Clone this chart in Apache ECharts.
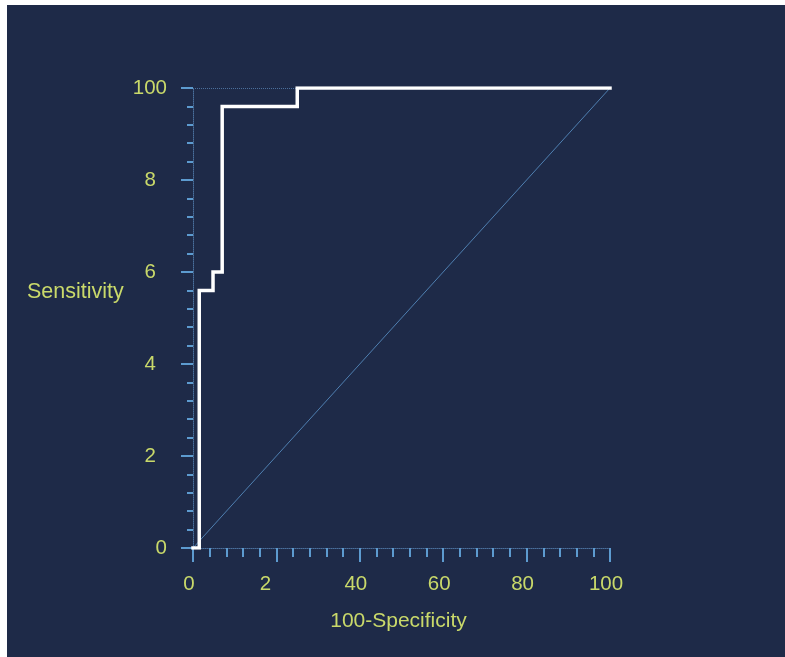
<!DOCTYPE html>
<html>
<head>
<meta charset="utf-8">
<script src="https://cdn.jsdelivr.net/npm/echarts@6/dist/echarts.min.js"></script>
<style>
html,body{margin:0;padding:0;background:#ffffff;}
#chart{width:785px;height:657px;}
</style>
</head>
<body>
<div id="chart"></div>
<script>
// ROC curve points (100-Specificity, Sensitivity), stepped
const rocX = [0, 1.5, 4.8, 7, 25, 100];
const rocY = [0, 56, 60, 96, 100, 100];
// reference diagonal
const diagX = [0, 100];
const diagY = [0, 100];
// tick values and tick labels as printed
const tickValues = [0, 20, 40, 60, 80, 100];
const xTickLabels = ['0', '2', '40', '60', '80', '100'];
const yTickLabels = ['0', '2', '4', '6', '8', '100'];

const labelColor = '#c9d96a';
const tickColor = '#5d9bd0';
const font = '"Liberation Sans", Arial, sans-serif';

function labelFor(list, shortStyle) {
  return function (v) {
    const i = tickValues.indexOf(Math.round(v));
    if (i < 0) return '';
    const s = list[i];
    return (v !== 0 && s.length === 1) ? '{s|' + s + '}' : '{n|' + s + '}';
  };
}

const chart = echarts.init(document.getElementById('chart'));
chart.setOption({
  animation: false,
  backgroundColor: '#ffffff',
  graphic: [{
    type: 'rect', z: -10,
    shape: {x: 7, y: 5, width: 778, height: 652},
    style: {fill: '#1e2a48'}
  }, {
    type: 'text', left: 27, top: 281, z: 10,
    style: {text: 'Sensitivity', fill: labelColor, fontSize: 21.5, fontFamily: font}
  }],
  grid: {left: 193, right: 175, top: 88, bottom: 109, containLabel: false},
  xAxis: {
    type: 'value', min: 0, max: 100, interval: 20,
    name: '100-Specificity', nameLocation: 'middle', nameGap: 63,
    nameTextStyle: {color: labelColor, fontSize: 21, fontFamily: font, padding: [0, 6, 0, 0]},
    axisLine: {show: true, lineStyle: {color: '#4a6f9c', type: 'dotted', width: 1}},
    axisTick: {show: true, inside: false, length: 14, lineStyle: {color: tickColor, width: 2}},
    minorTick: {show: true, splitNumber: 5, length: 9, lineStyle: {color: tickColor, width: 2}},
    axisLabel: {
      color: labelColor, fontSize: 20.5, fontFamily: font, margin: 26,
      formatter: labelFor(xTickLabels),
      rich: {
        n: {color: labelColor, fontSize: 20.5, fontFamily: font, padding: [0, 8, 0, 0]},
        s: {color: labelColor, fontSize: 20.5, fontFamily: font, padding: [0, 22, 0, 0]}
      }
    },
    splitLine: {show: false}
  },
  yAxis: {
    type: 'value', min: 0, max: 100, interval: 20,
    axisLine: {show: true, lineStyle: {color: '#4a6f9c', type: 'dotted', width: 1}},
    axisTick: {show: true, inside: false, length: 12, lineStyle: {color: tickColor, width: 2}},
    minorTick: {show: true, splitNumber: 5, length: 6, lineStyle: {color: tickColor, width: 2}},
    axisLabel: {
      color: labelColor, fontSize: 20.5, fontFamily: font, margin: 26,
      formatter: labelFor(yTickLabels),
      rich: {
        n: {color: labelColor, fontSize: 20.5, fontFamily: font, padding: [0, 0, 0, 0]},
        s: {color: labelColor, fontSize: 20.5, fontFamily: font, padding: [0, 11, 0, 0]}
      }
    },
    splitLine: {show: false}
  },
  series: [
    {
      type: 'line',
      data: diagX.map((x, i) => [x, diagY[i]]),
      symbol: 'none',
      lineStyle: {color: '#4f7fb0', width: 1},
      z: 1,
      markLine: {
        silent: true, symbol: 'none', label: {show: false},
        lineStyle: {color: '#4a6f9c', type: 'dotted', width: 1},
        data: [{yAxis: 100}]
      }
    },
    {
      type: 'line',
      step: 'end',
      data: rocX.map((x, i) => [x, rocY[i]]),
      symbol: 'none',
      lineStyle: {color: '#ffffff', width: 3.5, cap: 'square', join: 'miter'},
      z: 5
    }
  ]
});
</script>
</body>
</html>
